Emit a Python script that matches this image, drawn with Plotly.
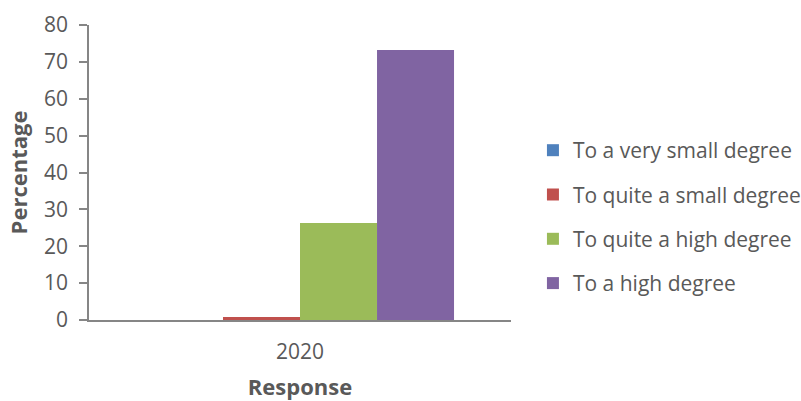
import plotly.graph_objects as go

categories = ["2020"]
series_names = ["To a very small degree", "To quite a small degree",
                "To quite a high degree", "To a high degree"]
series_values = [[0.0], [0.8], [26.3], [73.2]]
colors = ["#4F81BD", "#C0504D", "#9BBB59", "#8064A2"]
y_ticks = [0, 10, 20, 30, 40, 50, 60, 70, 80]

FONT = "Open Sans"
TXT = "#595959"

fig = go.Figure()
for i, (name, vals) in enumerate(zip(series_names, series_values)):
    fig.add_trace(go.Bar(x=categories, y=vals, name=name,
                         marker=dict(color=colors[i], line=dict(width=0)),
                         legendgroup=f"g{i}"))

fig.update_layout(
    width=801, height=401,
    margin=dict(l=89, r=290, t=25, b=81, autoexpand=False),
    paper_bgcolor="white", plot_bgcolor="white",
    barmode="group", bargap=0.27, bargroupgap=0,
    font=dict(family=FONT, color=TXT, size=21),
    showlegend=True,
    legend=dict(x=1.052, xanchor="left", y=0.349, yanchor="middle",
                font=dict(size=21, color=TXT, family=FONT),
                tracegroupgap=14, itemwidth=30,
                bgcolor="rgba(0,0,0,0)"),
    xaxis=dict(showline=True, linecolor="#868686", linewidth=1.5,
               ticks="", showgrid=False, ticklabelstandoff=12,
               tickfont=dict(size=21, color=TXT),
               title=dict(text="<b>Response</b>", font=dict(size=22, color=TXT), standoff=18)),
    yaxis=dict(range=[0, 80], tickvals=y_ticks, showline=True, linecolor="#868686",
               linewidth=1.5, ticks="outside", ticklen=8, tickcolor="#868686",
               tickwidth=1.5, showgrid=False, zeroline=False, ticklabelstandoff=7,
               tickfont=dict(size=21, color=TXT),
               title=dict(text="<b>Percentage</b>", font=dict(size=22, color=TXT), standoff=10)),
)

fig.write_html("out.html", config={"displayModeBar": False},
               post_script="document.body.style.margin='0';document.body.style.overflow='hidden';")
